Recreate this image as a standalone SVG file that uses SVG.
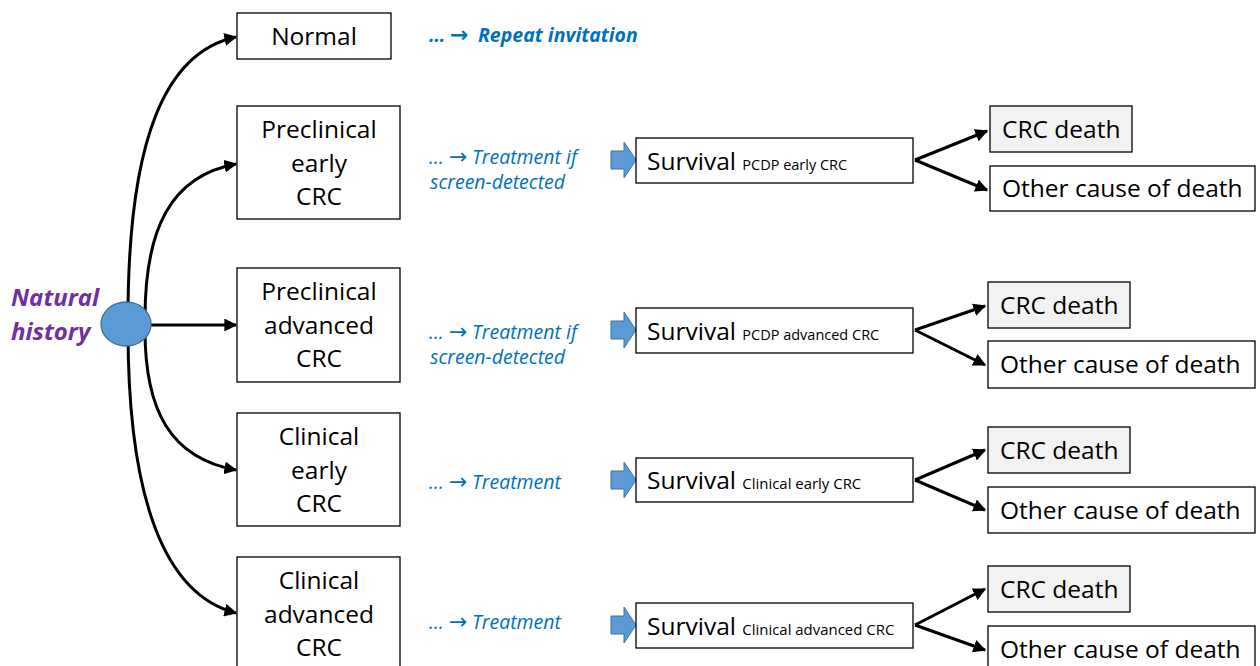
<svg xmlns="http://www.w3.org/2000/svg" width="1260" height="666" viewBox="0 0 1260 666">
  <style>
    .box { fill: #ffffff; stroke: #000000; stroke-width: 1.3; }
    .grey { fill: #f2f2f2; stroke: #000000; stroke-width: 1.3; }
    .t { font-family: "Open Sans", "Noto Sans", sans-serif; font-size: 24.5px; fill: #000000; }
    .tc { text-anchor: middle; }
    .sub { font-family: "Open Sans", "Noto Sans", sans-serif; font-size: 14.5px; fill: #000000; }
    .step { font-family: "Open Sans", "Noto Sans", sans-serif; font-size: 19.5px; font-style: italic; fill: #0070c0; }
    .arr { font-family: "DejaVu Sans", sans-serif; font-style: normal; font-size: 22px; }
    .conn { fill: none; stroke: #000000; stroke-width: 3; marker-end: url(#ah); }
    .blk { fill: #5b9bd5; stroke: #41719c; stroke-width: 1; }
  </style>
  <defs>
    <marker id="ah" viewBox="0 0 10 10" refX="9" refY="5" markerWidth="4.3" markerHeight="4.3" orient="auto" markerUnits="strokeWidth">
      <path d="M0,0 L10,5 L0,10 z" fill="#000000"/>
    </marker>
    <path id="blockArrow" d="M0,-9 L13,-9 L13,-18 L25,0 L13,18 L13,9 L0,9 z"/>
  </defs>

  <!-- connectors -->
  <g id="connectors">
    <path class="conn" d="M128,318 C128,140 165,52 236,37"/>
    <path class="conn" d="M145,318 C145,230 170,176 236,164"/>
    <path class="conn" d="M151,325 L236,325"/>
    <path class="conn" d="M145,330 C145,410 170,458 236,470"/>
    <path class="conn" d="M128,330 C128,500 165,595 236,613"/>
    <!-- outcome branches -->
    <path class="conn" d="M915,160 L987,131"/>
    <path class="conn" d="M915,160 L987,190"/>
    <path class="conn" d="M915,330 L985,306"/>
    <path class="conn" d="M915,330 L985,365"/>
    <path class="conn" d="M915,480 L985,450"/>
    <path class="conn" d="M915,480 L985,510"/>
    <path class="conn" d="M915,625 L985,589"/>
    <path class="conn" d="M915,625 L985,650"/>
  </g>

  <!-- origin -->
  <g id="natural-history">
    <ellipse cx="126" cy="324" rx="25" ry="22" fill="#5b9bd5" stroke="#41719c" stroke-width="1.3"/>
    <text font-family="Open Sans, Noto Sans, sans-serif" font-size="24" font-weight="bold" font-style="italic" fill="#7030a0">
      <tspan x="11" y="306">Natural</tspan>
      <tspan x="11" y="340">history</tspan>
    </text>
  </g>

  <!-- states -->
  <g id="normal">
    <rect class="box" x="237" y="13" width="154" height="46"/>
    <text class="t tc" x="314" y="45">Normal</text>
  </g>
  <g id="preclinical-early">
    <rect class="box" x="237" y="106" width="163" height="113"/>
    <text class="t tc"><tspan x="319" y="138">Preclinical</tspan><tspan x="319" y="172">early</tspan><tspan x="319" y="205">CRC</tspan></text>
  </g>
  <g id="preclinical-advanced">
    <rect class="box" x="237" y="268" width="163" height="114"/>
    <text class="t tc"><tspan x="319" y="300">Preclinical</tspan><tspan x="319" y="334">advanced</tspan><tspan x="319" y="367">CRC</tspan></text>
  </g>
  <g id="clinical-early">
    <rect class="box" x="237" y="413" width="163" height="113"/>
    <text class="t tc"><tspan x="319" y="445">Clinical</tspan><tspan x="319" y="479">early</tspan><tspan x="319" y="512">CRC</tspan></text>
  </g>
  <g id="clinical-advanced">
    <rect class="box" x="237" y="557" width="163" height="115"/>
    <text class="t tc"><tspan x="319" y="589">Clinical</tspan><tspan x="319" y="623">advanced</tspan><tspan x="319" y="656">CRC</tspan></text>
  </g>

  <!-- follow-up steps -->
  <g id="step-normal">
    <text class="step" y="42" font-size="22.5" font-weight="bold"><tspan x="429">…</tspan><tspan class="arr" x="450" font-size="24">→</tspan><tspan x="478">Repeat invitation</tspan></text>
  </g>
  <g id="step-pe">
    <text class="step"><tspan x="429" y="164">…</tspan><tspan class="arr" x="449">→</tspan><tspan x="472">Treatment if</tspan><tspan x="430" y="189">screen-detected</tspan></text>
  </g>
  <g id="step-pa">
    <text class="step"><tspan x="429" y="339">…</tspan><tspan class="arr" x="449">→</tspan><tspan x="472">Treatment if</tspan><tspan x="430" y="364">screen-detected</tspan></text>
  </g>
  <g id="step-ce">
    <text class="step" y="489"><tspan x="429">…</tspan><tspan class="arr" x="449">→</tspan><tspan x="472">Treatment</tspan></text>
  </g>
  <g id="step-ca">
    <text class="step" y="629"><tspan x="429">…</tspan><tspan class="arr" x="449">→</tspan><tspan x="472">Treatment</tspan></text>
  </g>

  <!-- survival -->
  <g id="survival-pe">
    <use href="#blockArrow" class="blk" x="611" y="160"/>
    <rect class="box" x="636" y="138" width="277" height="45"/>
    <text x="647" y="170"><tspan class="t">Survival </tspan><tspan class="sub">PCDP early CRC</tspan></text>
  </g>
  <g id="survival-pa">
    <use href="#blockArrow" class="blk" x="611" y="330"/>
    <rect class="box" x="636" y="308" width="277" height="45"/>
    <text x="647" y="340"><tspan class="t">Survival </tspan><tspan class="sub">PCDP advanced CRC</tspan></text>
  </g>
  <g id="survival-ce">
    <use href="#blockArrow" class="blk" x="611" y="480"/>
    <rect class="box" x="636" y="458" width="277" height="44"/>
    <text x="647" y="489"><tspan class="t">Survival </tspan><tspan class="sub" textLength="119" lengthAdjust="spacingAndGlyphs">Clinical early CRC</tspan></text>
  </g>
  <g id="survival-ca">
    <use href="#blockArrow" class="blk" x="611" y="625"/>
    <rect class="box" x="636" y="603" width="277" height="45"/>
    <text x="647" y="635"><tspan class="t">Survival </tspan><tspan class="sub" textLength="152" lengthAdjust="spacingAndGlyphs">Clinical advanced CRC</tspan></text>
  </g>

  <!-- outcomes -->
  <g id="crc-death-pe">
    <rect class="grey" x="990" y="106" width="142" height="46"/>
    <text class="t" x="1002" y="138">CRC death</text>
  </g>
  <g id="other-death-pe">
    <rect class="box" x="990" y="166" width="265" height="45"/>
    <text class="t" x="1002" y="197">Other cause of death</text>
  </g>
  <g id="crc-death-pa">
    <rect class="grey" x="988" y="282" width="142" height="46"/>
    <text class="t" x="1000" y="314">CRC death</text>
  </g>
  <g id="other-death-pa">
    <rect class="box" x="988" y="341" width="267" height="47"/>
    <text class="t" x="1000" y="373">Other cause of death</text>
  </g>
  <g id="crc-death-ce">
    <rect class="grey" x="988" y="427" width="142" height="46"/>
    <text class="t" x="1000" y="459">CRC death</text>
  </g>
  <g id="other-death-ce">
    <rect class="box" x="988" y="487" width="267" height="46"/>
    <text class="t" x="1000" y="519">Other cause of death</text>
  </g>
  <g id="crc-death-ca">
    <rect class="grey" x="988" y="566" width="142" height="46"/>
    <text class="t" x="1000" y="598">CRC death</text>
  </g>
  <g id="other-death-ca">
    <rect class="box" x="988" y="626" width="267" height="46"/>
    <text class="t" x="1000" y="658">Other cause of death</text>
  </g>
</svg>
